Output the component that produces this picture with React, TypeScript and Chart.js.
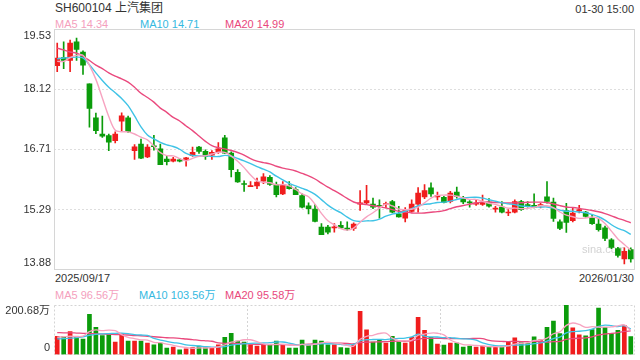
import React, { useEffect, useRef } from "react";
import { Chart, registerables } from "chart.js";

Chart.register(...registerables);

const FONT = "Arial, 'Liberation Sans', 'Noto Sans CJK SC', sans-serif";

const stockTitle = "SH600104 上汽集团";
const timeStamp = "01-30 15:00";

const dates = [
  "2025/09/17", "2025/09/18", "2025/09/19", "2025/09/22", "2025/09/23", "2025/09/24", "2025/09/25", "2025/09/26", "2025/09/29", "2025/09/30",
  "2025/10/09", "2025/10/10", "2025/10/13", "2025/10/14", "2025/10/15", "2025/10/16", "2025/10/17", "2025/10/20", "2025/10/21", "2025/10/22",
  "2025/10/23", "2025/10/24", "2025/10/27", "2025/10/28", "2025/10/29", "2025/10/30", "2025/10/31",
  "2025/11/03", "2025/11/04", "2025/11/05", "2025/11/06", "2025/11/07", "2025/11/10", "2025/11/11", "2025/11/12", "2025/11/13", "2025/11/14",
  "2025/11/17", "2025/11/18", "2025/11/19", "2025/11/20", "2025/11/21", "2025/11/24", "2025/11/25", "2025/11/26", "2025/11/27", "2025/11/28",
  "2025/12/01", "2025/12/02", "2025/12/03", "2025/12/04", "2025/12/05", "2025/12/08", "2025/12/09", "2025/12/10", "2025/12/11", "2025/12/12",
  "2025/12/15", "2025/12/16", "2025/12/17", "2025/12/18", "2025/12/19", "2025/12/22", "2025/12/23", "2025/12/24", "2025/12/25", "2025/12/26",
  "2025/12/29", "2025/12/30", "2025/12/31",
  "2026/01/05", "2026/01/06", "2026/01/07", "2026/01/08", "2026/01/09", "2026/01/12", "2026/01/13", "2026/01/14", "2026/01/15", "2026/01/16",
  "2026/01/19", "2026/01/20", "2026/01/21", "2026/01/22", "2026/01/23", "2026/01/26", "2026/01/27", "2026/01/28", "2026/01/29", "2026/01/30",
];

const opens = [
  18.68, 18.87, 18.80, 19.24, 19.00, 18.25, 17.45, 17.07, 17.03, 16.91,
  17.37, 17.45, 16.68, 16.83, 16.53, 16.79, 16.72, 16.48, 16.43, 16.46,
  16.47, 16.56, 16.76, 16.66, 16.57, 16.65, 16.98, 16.62, 16.17, 15.90,
  15.83, 15.85, 15.96, 16.05, 15.88, 15.66, 15.85, 15.76, 15.62, 15.38,
  15.30, 14.88, 14.88, 14.86, 14.92, 14.85, 14.85, 15.42, 15.45, 15.42,
  15.39, 15.41, 15.48, 15.19, 15.09, 15.25, 15.42, 15.59, 15.80, 15.59,
  15.58, 15.48, 15.70, 15.55, 15.46, 15.42, 15.41, 15.47, 15.30, 15.35,
  15.21, 15.23, 15.48, 15.41, 15.39, 15.38, 15.59, 15.47, 15.00, 15.27,
  15.03, 15.26, 15.23, 15.09, 14.95, 14.86, 14.58, 14.37, 14.13, 14.35,
];
const highs = [
  19.21, 19.24, 19.28, 19.33, 19.03, 18.25, 17.56, 17.49, 17.07, 17.12,
  17.57, 17.49, 16.82, 16.95, 16.82, 17.04, 16.83, 16.56, 16.52, 16.50,
  16.52, 16.76, 16.78, 16.70, 16.68, 16.87, 17.04, 16.65, 16.23, 15.97,
  15.95, 16.03, 16.14, 16.09, 15.94, 15.95, 15.95, 15.81, 15.66, 15.45,
  15.41, 14.96, 14.92, 14.96, 15.01, 15.00, 14.98, 15.74, 15.86, 15.56,
  15.52, 15.47, 15.51, 15.37, 15.34, 15.52, 15.81, 15.88, 15.92, 15.70,
  15.60, 15.72, 15.82, 15.60, 15.50, 15.51, 15.63, 15.55, 15.37, 15.48,
  15.29, 15.52, 15.51, 15.48, 15.66, 15.44, 15.95, 15.56, 15.05, 15.44,
  15.33, 15.39, 15.25, 15.17, 15.08, 14.90, 14.61, 14.40, 14.39, 14.39,
];
const lows = [
  18.54, 18.61, 18.54, 18.80, 18.47, 17.23, 17.08, 16.99, 16.68, 16.86,
  17.15, 17.11, 16.47, 16.49, 16.51, 16.69, 16.35, 16.34, 16.41, 16.41,
  16.31, 16.54, 16.61, 16.47, 16.47, 16.61, 16.61, 16.06, 15.93, 15.72,
  15.83, 15.78, 15.90, 15.86, 15.59, 15.64, 15.77, 15.64, 15.33, 15.19,
  15.00, 14.70, 14.72, 14.76, 14.84, 14.80, 14.80, 15.27, 15.41, 15.31,
  15.09, 15.33, 15.21, 15.11, 15.00, 15.23, 15.23, 15.55, 15.60, 15.52,
  15.45, 15.45, 15.56, 15.43, 15.35, 15.39, 15.39, 15.35, 15.23, 15.21,
  15.15, 15.21, 15.27, 15.35, 15.33, 15.33, 15.44, 15.01, 14.82, 14.75,
  15.00, 15.21, 15.11, 14.94, 14.78, 14.56, 14.37, 14.17, 14.01, 14.05,
];
const closes = [
  18.86, 18.80, 19.21, 19.06, 18.69, 17.67, 17.15, 17.02, 16.88, 17.07,
  17.50, 17.13, 16.77, 16.50, 16.76, 16.77, 16.35, 16.42, 16.48, 16.43,
  16.51, 16.64, 16.66, 16.54, 16.64, 16.72, 16.62, 16.23, 15.94, 15.88,
  15.85, 15.94, 16.06, 15.88, 15.64, 15.88, 15.78, 15.64, 15.35, 15.31,
  15.01, 14.70, 14.76, 14.88, 14.86, 14.83, 14.95, 15.45, 15.50, 15.35,
  15.37, 15.43, 15.23, 15.12, 15.29, 15.42, 15.68, 15.74, 15.66, 15.62,
  15.46, 15.68, 15.60, 15.47, 15.45, 15.45, 15.46, 15.37, 15.32, 15.23,
  15.23, 15.48, 15.29, 15.37, 15.35, 15.41, 15.48, 15.08, 14.85, 14.99,
  15.21, 15.29, 15.13, 14.96, 14.82, 14.61, 14.40, 14.21, 14.31, 14.13,
];
// volume in 万 (10k shares)
const volumes = [
  74, 74, 93, 70, 63, 163, 110, 77, 82, 50,
  84, 54, 54, 54, 46, 39, 46, 26, 30, 19,
  23, 28, 34, 28, 26, 39, 70, 86, 54, 50,
  39, 34, 40, 40, 54, 40, 26, 26, 58, 40,
  58, 54, 39, 39, 28, 26, 39, 175, 100, 50,
  62, 46, 74, 50, 46, 70, 151, 98, 70, 42,
  38, 46, 46, 30, 34, 30, 34, 30, 30, 30,
  52, 68, 48, 44, 72, 59, 110, 135, 85, 200.68,
  108, 80, 76, 101, 188, 110, 85, 98, 118, 73,
];

// moving-average values before a full window exists
const ma5Head = [18.78, 18.78, 18.87, 18.92];
const ma10Head = [18.84, 18.86, 18.87, 18.88, 18.86, 18.70, 18.51, 18.33, 18.17];
const ma20Head = [19.09, 19.05, 19.00, 18.97, 18.90, 18.80, 18.69, 18.61, 18.51, 18.43,
  18.37, 18.29, 18.17, 18.03, 17.93, 17.82, 17.68, 17.58, 17.46];
const volMa5Head = [70, 72, 74, 73];
const volMa10Head = [63, 64, 66, 68, 72, 78, 82, 84, 85];
const volMa20Head = [89, 88, 88, 87, 86, 85, 84, 83, 82, 81, 80, 79, 77, 76, 74, 72, 70, 68, 67];

const priceTicks = [19.53, 18.12, 16.71, 15.29, 13.88];
const priceMin = 13.88;
const priceMax = 19.53;
const volumeMax = 200.68;
const volumeTickLabels = ["200.68万", "0"];

const priceLegend = ["MA5 14.34", "MA10 14.71", "MA20 14.99"];
const volumeLegend = ["MA5 96.56万", "MA10 103.56万", "MA20 95.58万"];

const RED = "#f01d1d";
const GREEN = "#0b9c0b";
const MA5C = "#f7a3c0";
const MA10C = "#3fc3e6";
const MA20C = "#ea4a7e";
const LEG5 = "#f4a0bd";
const LEG10 = "#35b9df";
const LEG20 = "#e8487c";

function movingAvg(values: number[], n: number, head: number[]): number[] {
  return values.map((_, i) => {
    if (i < head.length) return head[i];
    let s = 0;
    for (let k = i - n + 1; k <= i; k++) s += values[k];
    return s / n;
  });
}

const candleColors = closes.map((c, i) => (c >= opens[i] ? RED : GREEN));

const mainDecor = {
  id: "mainDecor",
  beforeDatasetsDraw(chart: any) {
    const { ctx, chartArea: a, scales } = chart;
    ctx.save();
    ctx.strokeStyle = "#dedede";
    ctx.lineWidth = 1;
    ctx.setLineDash([2, 2]);
    priceTicks.slice(1, -1).forEach((v) => {
      const py = Math.floor(scales.y.getPixelForValue(v)) + 0.5;
      ctx.beginPath();
      ctx.moveTo(a.left, py);
      ctx.lineTo(a.right, py);
      ctx.stroke();
    });
    ctx.setLineDash([]);
    ctx.fillStyle = "#d2d2d2";
    ctx.font = `11px ${FONT}`;
    ctx.textBaseline = "middle";
    ctx.textAlign = "left";
    ctx.fillText("sina.com", a.right - 52, a.bottom - 20);
    ctx.restore();
  },
  afterDraw(chart: any) {
    const { ctx, chartArea: a, scales } = chart;
    ctx.save();
    ctx.strokeStyle = "#d6d6d6";
    ctx.lineWidth = 1;
    const l = Math.floor(a.left) + 0.5;
    const r = Math.floor(a.right) + 0.5;
    const t = Math.floor(a.top) + 0.5;
    const b = Math.floor(a.bottom) + 0.5;
    ctx.strokeRect(l, t, r - l, b - t);
    ctx.fillStyle = "#333";
    ctx.font = `11px ${FONT}`;
    ctx.textAlign = "right";
    priceTicks.forEach((v, i) => {
      const py = scales.y.getPixelForValue(v);
      if (i === 0) {
        ctx.textBaseline = "top";
        ctx.fillText(v.toFixed(2), a.left - 3, py + 1);
      } else if (i === priceTicks.length - 1) {
        ctx.textBaseline = "bottom";
        ctx.fillText(v.toFixed(2), a.left - 3, py - 1);
      } else {
        ctx.textBaseline = "middle";
        ctx.fillText(v.toFixed(2), a.left - 3, py);
      }
    });
    ctx.restore();
  },
};

const volDecor = {
  id: "volDecor",
  beforeDatasetsDraw(chart: any) {
    const { ctx, chartArea: a } = chart;
    ctx.save();
    ctx.strokeStyle = "#d4d4d4";
    ctx.lineWidth = 1;
    ctx.setLineDash([2, 2]);
    const l = Math.floor(a.left) + 0.5;
    const r = Math.floor(a.right) + 0.5;
    const t = Math.floor(a.top) + 0.5;
    const b = Math.floor(a.bottom) + 0.5;
    ctx.strokeRect(l, t, r - l, b - t);
    [1, 2].forEach((k) => {
      const x = Math.floor(a.left + ((a.right - a.left) * k) / 3) + 0.5;
      ctx.beginPath();
      ctx.moveTo(x, a.top);
      ctx.lineTo(x, a.bottom);
      ctx.stroke();
    });
    ctx.restore();
  },
  afterDraw(chart: any) {
    const { ctx, chartArea: a } = chart;
    ctx.save();
    ctx.fillStyle = "#333";
    ctx.font = `11px ${FONT}`;
    ctx.textAlign = "right";
    ctx.textBaseline = "top";
    ctx.fillText(volumeTickLabels[0], a.left - 4, a.top);
    ctx.textBaseline = "bottom";
    ctx.fillText(volumeTickLabels[1], a.left - 4, a.bottom - 1);
    ctx.restore();
  },
};

const lineDs = (label: string, data: number[], color: string, width: number) => ({
  type: "line" as const,
  label,
  data,
  borderColor: color,
  backgroundColor: color,
  borderWidth: width,
  pointRadius: 0,
  tension: 0.35,
  fill: false,
  order: 0,
});

const textStyle = (left: number, top: number, color: string, size = 11): React.CSSProperties => ({
  position: "absolute",
  left,
  top,
  color,
  fontSize: size,
  lineHeight: "12px",
  fontFamily: FONT,
  whiteSpace: "nowrap",
});

export default function App() {
  const mainRef = useRef<HTMLCanvasElement>(null);
  const volRef = useRef<HTMLCanvasElement>(null);

  useEffect(() => {
    const ma5 = movingAvg(closes, 5, ma5Head);
    const ma10 = movingAvg(closes, 10, ma10Head);
    const ma20 = movingAvg(closes, 20, ma20Head);
    const vma5 = movingAvg(volumes, 5, volMa5Head);
    const vma10 = movingAvg(volumes, 10, volMa10Head);
    const vma20 = movingAvg(volumes, 20, volMa20Head);

    const main = new Chart(mainRef.current as HTMLCanvasElement, {
      type: "bar",
      data: {
        labels: dates,
        datasets: [
          lineDs("MA5", ma5, MA5C, 1.4),
          lineDs("MA10", ma10, MA10C, 1.4),
          lineDs("MA20", ma20, MA20C, 1.4),
          {
            type: "bar",
            label: "wick",
            data: lows.map((l, i) => [l, highs[i]]),
            backgroundColor: candleColors,
            barThickness: 1,
            grouped: false,
            order: 2,
          },
          {
            type: "bar",
            label: "body",
            data: opens.map((o, i) => [o, closes[i]]),
            backgroundColor: candleColors,
            barThickness: 5,
            minBarLength: 1,
            grouped: false,
            order: 1,
          },
        ] as any,
      },
      options: {
        responsive: false,
        animation: false,
        devicePixelRatio: 1,
        layout: { padding: { left: 54, right: 6, top: 29.5, bottom: 2.5 } },
        plugins: { legend: { display: false }, tooltip: { enabled: false } },
        scales: {
          x: { display: false, offset: true },
          y: { display: false, min: priceMin, max: priceMax },
        },
      },
      plugins: [mainDecor],
    });

    const vol = new Chart(volRef.current as HTMLCanvasElement, {
      type: "bar",
      data: {
        labels: dates,
        datasets: [
          lineDs("MA5", vma5, MA5C, 1.3),
          lineDs("MA10", vma10, MA10C, 1.3),
          lineDs("MA20", vma20, MA20C, 1.3),
          {
            type: "bar",
            label: "volume",
            data: volumes,
            backgroundColor: candleColors,
            barThickness: 4,
            order: 1,
          },
        ] as any,
      },
      options: {
        responsive: false,
        animation: false,
        devicePixelRatio: 1,
        layout: { padding: { left: 54, right: 6, top: 5, bottom: 5.5 } },
        plugins: { legend: { display: false }, tooltip: { enabled: false } },
        scales: {
          x: { display: false, offset: true },
          y: { display: false, min: 0, max: volumeMax },
        },
      },
      plugins: [volDecor],
    });

    return () => {
      main.destroy();
      vol.destroy();
    };
  }, []);

  return (
    <div style={{ position: "absolute", left: 0, top: 0, width: 640, height: 360, background: "#fff", overflow: "hidden" }}>
      <div style={textStyle(55, 2, "#333", 12)}>{stockTitle}</div>
      <div style={{ ...textStyle(0, 3, "#333"), left: "auto", right: 6 }}>{timeStamp}</div>
      <div style={textStyle(55, 18, LEG5)}>{priceLegend[0]}</div>
      <div style={textStyle(140, 18, LEG10)}>{priceLegend[1]}</div>
      <div style={textStyle(225, 18, LEG20)}>{priceLegend[2]}</div>
      <canvas ref={mainRef} width={640} height={272} style={{ position: "absolute", left: 0, top: 0 }} />
      <div style={textStyle(55, 272, "#333")}>{dates[0]}</div>
      <div style={{ ...textStyle(0, 272, "#333"), left: "auto", right: 6 }}>{dates[dates.length - 1]}</div>
      <div style={textStyle(55, 289, LEG5)}>{volumeLegend[0]}</div>
      <div style={textStyle(139, 289, LEG10)}>{volumeLegend[1]}</div>
      <div style={textStyle(225, 289, LEG20)}>{volumeLegend[2]}</div>
      <canvas ref={volRef} width={640} height={60} style={{ position: "absolute", left: 0, top: 300 }} />
    </div>
  );
}
